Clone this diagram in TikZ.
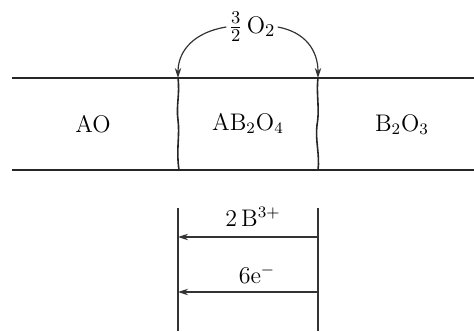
\documentclass[tikz,border=0pt]{standalone}
\usetikzlibrary{arrows.meta}
\tikzset{
  bdline/.style={line width=0.8pt, black!85},
  thinline/.style={line width=0.6pt, black!80},
  lbl/.style={inner sep=1pt, font=\fontsize{12}{14}\selectfont},
  smalllbl/.style={inner sep=1pt, font=\fontsize{11.5}{13}\selectfont},
  arrowtip/.style={-{Stealth[length=5pt,width=3.2pt]}},
}
\begin{document}
\begin{tikzpicture}[x=0.5pt,y=-0.5pt]
\useasboundingbox (0,0) rectangle (474,331);
\coordinate (tl) at (12,78);
\coordinate (tr) at (474,78);
\coordinate (bl) at (12,170);
\coordinate (br) at (474,170);
\draw[bdline] (tl) -- (tr);
\draw[bdline] (bl) -- (br);
\coordinate (lt) at (178,78);
\coordinate (rt) at (318,78);
\draw[bdline] (lt) .. controls (180,95) and (176,105) .. (178,120)
  .. controls (180,135) and (176,150) .. (179,170);
\draw[bdline] (rt) .. controls (316,95) and (320,108) .. (317,125)
  .. controls (315,140) and (320,155) .. (318,170);
\node[lbl] (ao) at (93,124) {AO};
\node[lbl] (ab) at (248,124) {$\mathrm{AB_2O_4}$};
\node[lbl] (bo) at (402,125) {$\mathrm{B_2O_3}$};
\node[lbl, font=\fontsize{12.5}{14}\selectfont] (o2) at (252,27) {$\frac{3}{2}\,\mathrm{O_2}$};
\draw[thinline,arrowtip] (o2.west) .. controls (195,32) and (178,50) .. (lt);
\draw[thinline,arrowtip] (o2.east) .. controls (305,32) and (318,50) .. (rt);
\coordinate (lv1) at (178,208);
\coordinate (lv2) at (178,331);
\coordinate (rv1) at (318,208);
\coordinate (rv2) at (318,331);
\draw[thinline] (lv1) -- (lv2);
\draw[thinline] (rv1) -- (rv2);
\coordinate (a1r) at (318,237);
\coordinate (a1l) at (178,237);
\coordinate (a2r) at (318,292);
\coordinate (a2l) at (178,292);
\draw[thinline,arrowtip] (a1r) -- (a1l);
\draw[thinline,arrowtip] (a2r) -- (a2l);
\node[smalllbl] (b3) at (253,217) {$2\,\mathrm{B}^{3+}$};
\node[smalllbl] (e6) at (257,274) {$6\mathrm{e}^{-}$};
\end{tikzpicture}
\end{document}
